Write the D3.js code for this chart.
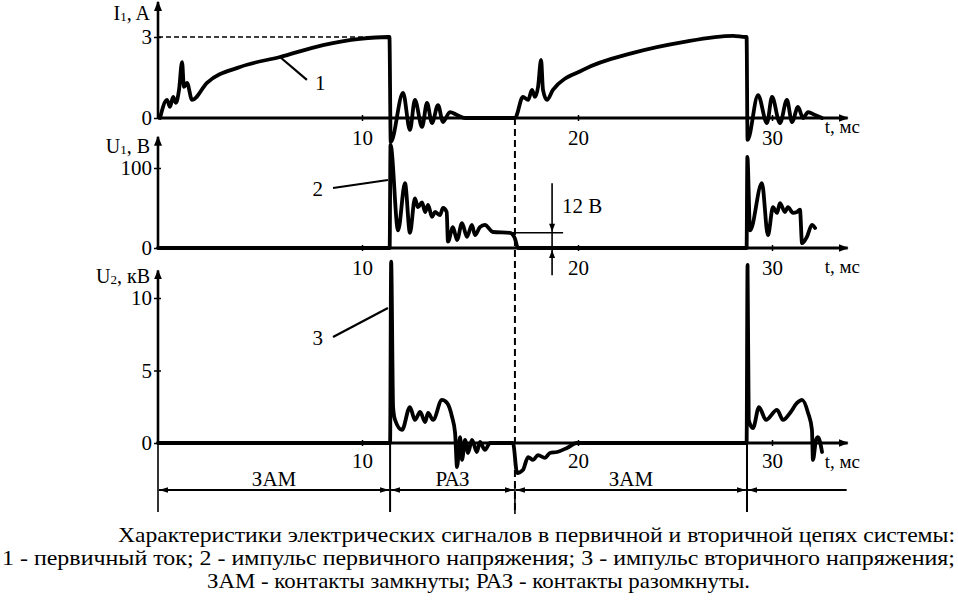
<!DOCTYPE html>
<html><head><meta charset="utf-8">
<script src="https://cdn.jsdelivr.net/npm/d3@7/dist/d3.min.js"></script>
<style>
body{margin:0;background:#fff;}
svg{display:block;font-family:"Liberation Serif","Tinos","Times New Roman","DejaVu Serif",serif;}
svg text{font-family:"Liberation Serif","Tinos","Times New Roman","DejaVu Serif",serif !important;fill:#000;}
</style></head><body>
<svg id="chart" width="958" height="603"></svg>
<script>
// ---------------- DATA ----------------
const timeTicks = [10, 20, 30];
const timeAxisEnd = 33.9;            // ms, end of the time axis arrow
const i1Ticks = [0, 3];
const u1Ticks = [0, 100];
const u2Ticks = [0, 5, 10];
const i1Top = 4.3, u1Top = 139, u2Top = 11.9;   // axis arrow tops (in units)

// primary current I1, A  : [t (ms), I (A)]
const currentI1 = [
  [0.1,0],[0.44,0.67],[0.59,0.41],[0.74,0.78],[0.88,0.56],[1.03,1.04],[1.18,2.07],[1.27,1.15],
  [1.42,1.30],[1.67,0.67],[2.40,1.30],[4.02,1.89],[5.98,2.26],[8.09,2.70],[9.90,2.93],[11.20,3.0],
  [11.27,3.0],[11.33,-0.89],[11.90,0.93],[12.22,-0.44],[12.45,0.67],[12.78,-0.33],[13.01,0.56],
  [13.24,-0.19],[13.52,0.48],[13.75,-0.15],[14.07,0.22],[14.40,0.11],[14.77,0],[17.08,0],
  [17.45,0.78],[17.69,0.67],[17.87,1.04],[18.01,0.78],[18.15,1.15],[18.29,2.15],[18.38,1.04],
  [18.56,0.67],[18.84,1.04],[20.26,1.78],[22.84,2.41],[25.41,2.81],[27.99,3.04],[28.64,3.0],
  [28.69,3.0],[28.74,-0.81],[29.28,0.85],[29.74,-0.19],[30.0,0.78],[30.41,-0.19],[30.77,0.67],
  [31.03,-0.15],[31.34,0.41],[31.60,0],[31.86,0.22],[32.22,0.11],[32.58,0]
];

// primary voltage pulse U1, V
const voltageU1 = [
  [0,0],[11.28,0],[11.32,129],[11.67,22],[11.99,81],[12.22,19],[12.45,62],[12.59,51],[12.78,57],
  [12.92,45],[13.06,54],[13.24,39],[13.38,45],[13.61,41],[13.75,50],[13.92,45],[13.98,8],
  [14.21,26],[14.40,10],[14.63,31],[14.86,14],[15.09,29],[15.23,16],[15.46,26],[15.69,29],
  [16.06,20],[16.85,19],[17.08,12],[17.22,0],[28.69,0],[28.73,114],[28.87,22],[29.48,81],
  [29.79,16],[30.05,51],[30.26,44],[30.41,56],[30.67,45],[30.82,51],[31.08,44],[31.29,45],
  [31.44,48],[31.55,6],[31.80,14],[32.06,29],[32.22,25]
];

// secondary voltage pulse U2, kV
const voltageU2 = [
  [0,0],[11.30,0],[11.35,12.5],[11.44,2.48],[11.53,1.59],[11.85,0.90],[12.22,2.48],[12.45,1.59],
  [12.69,2.14],[12.92,1.45],[13.06,2.07],[13.29,1.59],[13.70,2.97],[13.94,2.76],[14.17,1.79],
  [14.31,0.69],[14.40,-1.66],[14.54,0.41],[14.63,-1.17],[14.77,0.21],[14.91,-0.69],[15.09,0.21],
  [15.32,-0.62],[15.46,0.07],[15.69,-0.48],[15.93,0],[16.99,0],[17.18,-2.07],[17.45,-1.86],
  [17.69,-0.97],[17.92,-1.17],[18.15,-0.83],[18.47,-1.03],[18.70,-0.69],[19.03,-0.62],
  [19.49,-0.34],[19.95,0],[28.69,0],[28.74,12.28],[28.80,1.59],[29.02,1.03],[29.33,2.48],
  [29.69,1.59],[30.26,2.28],[30.57,1.59],[30.93,2.07],[31.29,2.76],[31.55,2.97],[31.86,2.07],
  [32.06,0.90],[32.11,-1.17],[32.27,0.21],[32.37,0.41],[32.58,-0.62]
];

// contact phases
const phaseBounds = [0, 11.3, 17.08, 28.71, 33.9];
const phaseLabels = ["ЗАМ", "РАЗ", "ЗАМ", ""];
const contactOpenT = 17.08;   // dashed marker line

// callouts: label, anchor on curve, leader end (data units of its panel)
const calloutLabels = ["1", "2", "3"];
const calloutAnchors = [[5.98, 2.26], [11.2, 85], [11.2, 9.31]];
const calloutEnds = [[7.30, 1.41], [8.58, 75], [8.58, 7.31]];

// "12 В" dimension on U1 panel
const residualLabel = "12 В";
const residualLevel = 19;   // drawn level (V)
const residualT = 18.8;
const residualLine = [16.06, 19.31];
const residualExtent = [81, -34];

const captionLines = [
  "Характеристики электрических сигналов в первичной и вторичной цепях системы:",
  "1 - первичный ток; 2 - импульс первичного напряжения; 3 - импульс вторичного напряжения;",
  "ЗАМ - контакты замкнуты; РАЗ - контакты разомкнуты."
];

// ---------------- DRAWING ----------------
const FONT = '"Liberation Serif","Tinos","Times New Roman","DejaVu Serif",serif';
const svg = d3.select("#chart");
const defs = svg.append("defs");
defs.append("marker").attr("id","axArrow").attr("viewBox","0 0 10 8").attr("refX",9).attr("refY",4)
  .attr("markerWidth",10).attr("markerHeight",8).attr("markerUnits","userSpaceOnUse").attr("orient","auto")
  .append("path").attr("d","M0,0L10,4L0,8Z").attr("fill","#000");
defs.append("marker").attr("id","dimArrow").attr("viewBox","0 0 10 6").attr("refX",10).attr("refY",3)
  .attr("markerWidth",9).attr("markerHeight",6).attr("markerUnits","userSpaceOnUse").attr("orient","auto-start-reverse")
  .append("path").attr("d","M0,0L10,3L0,6Z").attr("fill","#000");

const axisX0 = 158;
const x = d3.scaleLinear().domain([0, 10, 20, 30]).range([axisX0, 362, 578, 772]);

const panels = [
  {sub:"1", name:"I", unit:", A", y:d3.scaleLinear().domain([0,3]).range([118,37]), ticks:i1Ticks, top:i1Top, data:currentI1, labelY:20, tickLabelGap:12},
  {sub:"1", name:"U", unit:", В", y:d3.scaleLinear().domain([0,100]).range([248,168]), ticks:u1Ticks, top:u1Top, data:voltageU1, labelY:153, tickLabelGap:12},
  {sub:"2", name:"U", unit:", кВ", y:d3.scaleLinear().domain([0,10]).range([443,298]), ticks:u2Ticks, top:u2Top, data:voltageU2, labelY:283, tickLabelGap:10}
];

const txt = (sel, size) => sel.attr("font-family", FONT).style("font-family", FONT).style("font-size", size + "px").attr("fill","#000");

panels.forEach((p, i) => {
  const g = svg.append("g");
  const y0 = p.y(0);
  g.append("line").attr("x1",axisX0).attr("x2",axisX0).attr("y1",y0+1).attr("y2",p.y(p.top))
    .attr("stroke","#000").attr("stroke-width",2.6).attr("marker-end","url(#axArrow)");
  const ya = d3.axisLeft(p.y).tickValues(p.ticks).tickSize(4).tickPadding(2).tickFormat(d3.format("d"));
  const yg = g.append("g").attr("transform",`translate(${axisX0},0)`).call(ya).attr("font-family", FONT);
  yg.select(".domain").remove();
  yg.selectAll(".tick line").attr("stroke","#000").attr("stroke-width",1.5).attr("x2",3).attr("x1",-4);
  txt(yg.selectAll(".tick text"), 21);
  const lab = txt(g.append("text").attr("x",150).attr("y",p.labelY).attr("text-anchor","end"), 20);
  lab.append("tspan").text(p.name);
  lab.append("tspan").text(p.sub).style("font-size","13px").attr("dy",1);
  lab.append("tspan").text(p.unit).attr("dy",-1);

  g.append("line").attr("x1",axisX0).attr("x2",x(timeAxisEnd)).attr("y1",y0).attr("y2",y0)
    .attr("stroke","#000").attr("stroke-width",3.2).attr("marker-end","url(#axArrow)");
  const xa = d3.axisBottom(x).tickValues(timeTicks).tickSize(3).tickPadding(p.tickLabelGap - 3).tickFormat(d3.format("d"));
  const xg = g.append("g").attr("transform",`translate(0,${y0})`).call(xa).attr("font-family", FONT);
  xg.select(".domain").remove();
  xg.selectAll(".tick line").attr("stroke","#000").attr("stroke-width",1.5).attr("y1",-3).attr("y2",3);
  txt(xg.selectAll(".tick text"), 21);
  txt(g.append("text").attr("x",x(timeAxisEnd)-23).attr("y",y0 + (i===0?15:25)), 19).text("t, мс");

  const ln = d3.line().x(d => x(d[0])).y(d => p.y(d[1])).curve(d3.curveMonotoneX);
  g.append("path").attr("d", ln(p.data)).attr("fill","none").attr("stroke","#000")
    .attr("stroke-width",3.8).attr("stroke-linejoin","round").attr("stroke-linecap","round");

  const a = calloutAnchors[i], e = calloutEnds[i];
  g.append("line").attr("x1",x(a[0])).attr("y1",p.y(a[1])).attr("x2",x(e[0])).attr("y2",p.y(e[1]))
    .attr("stroke","#000").attr("stroke-width",2.2);
  txt(g.append("text").attr("x", i===0 ? x(e[0])+8 : x(e[0])-10).attr("y", p.y(e[1]) + (i===0?10:8))
    .attr("text-anchor", i===0 ? "start" : "end"), 21).text(calloutLabels[i]);
});

const [pI1, pU1, pU2] = panels;

svg.append("line").attr("x1",axisX0).attr("x2",x(phaseBounds[1])).attr("y1",pI1.y(3)).attr("y2",pI1.y(3))
  .attr("stroke","#000").attr("stroke-width",1.6).attr("stroke-dasharray","5,3");

const dimY = 490, extBottom = 512;
svg.append("line").attr("x1",x(contactOpenT)).attr("x2",x(contactOpenT)).attr("y1",pI1.y(0)).attr("y2",extBottom)
  .attr("stroke","#000").attr("stroke-width",2).attr("stroke-dasharray","7,4");

phaseBounds.slice(0,4).forEach((b, i) => {
  if (i === 2) return;
  svg.append("line").attr("x1",x(b)).attr("x2",x(b)).attr("y1",pU2.y(0)).attr("y2",extBottom)
    .attr("stroke","#000").attr("stroke-width",i===0?1.6:2);
});
svg.append("line").attr("x1",x(contactOpenT)).attr("x2",x(contactOpenT)).attr("y1",dimY-6).attr("y2",extBottom+2)
  .attr("stroke","#000").attr("stroke-width",1.6);

phaseLabels.forEach((lbl, i) => {
  const x1 = x(phaseBounds[i]) + 1, x2 = x(phaseBounds[i+1]) - 1;
  const l = svg.append("line").attr("x1",x1).attr("x2",x2).attr("y1",dimY).attr("y2",dimY)
    .attr("stroke","#000").attr("stroke-width",2).attr("marker-start","url(#dimArrow)");
  if (i < 3) l.attr("marker-end","url(#dimArrow)");
  if (lbl) txt(svg.append("text").attr("x",(x(phaseBounds[i]) + x(phaseBounds[i+1]))/2).attr("y",dimY-4)
    .attr("text-anchor","middle"), 21).text(lbl);
});

svg.append("line").attr("x1",x(residualLine[0])).attr("x2",x(residualLine[1]))
  .attr("y1",pU1.y(residualLevel)).attr("y2",pU1.y(residualLevel)).attr("stroke","#000").attr("stroke-width",1.6);
svg.append("line").attr("x1",x(residualT)).attr("x2",x(residualT))
  .attr("y1",pU1.y(residualExtent[0])).attr("y2",pU1.y(residualExtent[1])).attr("stroke","#000").attr("stroke-width",1.6);
const rx = x(residualT);
const tri = (tipY, dir) => `M${rx},${tipY}L${rx-3},${tipY-dir*8}L${rx+3},${tipY-dir*8}Z`;
svg.append("path").attr("d", tri(pU1.y(residualLevel)-1, 1)).attr("fill","#000");
svg.append("path").attr("d", tri(pU1.y(0)+2, -1)).attr("fill","#000");
txt(svg.append("text").attr("x", rx + 10).attr("y", pU1.y(44)), 21).text(residualLabel);

const capX = [118, 2, 207], capW = [837, 953, 543], capY = [542, 565, 588];
captionLines.forEach((t, i) => {
  txt(svg.append("text").attr("x",capX[i]).attr("y",capY[i]), 21)
    .attr("textLength",capW[i]).attr("lengthAdjust","spacingAndGlyphs").text(t);
});
</script>
</body></html>
